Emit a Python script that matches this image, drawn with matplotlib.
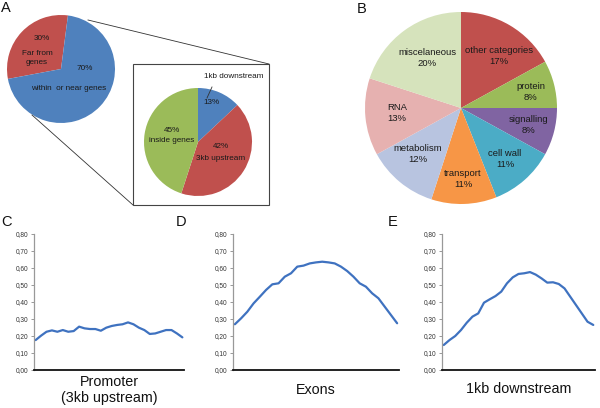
import matplotlib
matplotlib.use("Agg")
import matplotlib.pyplot as plt
from matplotlib.patches import Rectangle

plt.rcParams['font.family'] = ['Liberation Sans', 'DejaVu Sans']

# ---------------- data ----------------
a_labels = ["Far from\ngenes", "within  or near genes"]
a_values = [30, 70]
a_colors = ["#C0504D", "#4F81BD"]

inset_labels = ["1kb downstream", "3kb upstream", "inside genes"]
inset_values = [13, 42, 45]
inset_colors = ["#4F81BD", "#C0504D", "#9BBB59"]

b_labels = ["other categories", "protein", "signalling", "cell wall",
            "transport", "metabolism", "RNA", "miscelaneous"]
b_values = [17, 8, 8, 11, 11, 12, 13, 20]
b_colors = ["#C0504D", "#9BBB59", "#8064A2", "#4BACC6",
            "#F79646", "#B8C4E0", "#E6B1B0", "#D6E3BC"]

promoter = [0.176, 0.202, 0.225, 0.233, 0.225, 0.235, 0.225, 0.229, 0.255, 0.245,
            0.241, 0.241, 0.231, 0.249, 0.259, 0.265, 0.269, 0.280, 0.269, 0.249,
            0.235, 0.212, 0.215, 0.225, 0.235, 0.235, 0.215, 0.192]
exons = [0.269, 0.304, 0.343, 0.392, 0.431, 0.471, 0.504, 0.510, 0.549, 0.569,
         0.608, 0.614, 0.627, 0.633, 0.637, 0.633, 0.627, 0.608, 0.582, 0.549,
         0.510, 0.490, 0.451, 0.422, 0.373, 0.324, 0.275]
downstream = [0.147, 0.176, 0.200, 0.235, 0.278, 0.314, 0.333, 0.396, 0.416, 0.435,
              0.461, 0.510, 0.545, 0.565, 0.569, 0.576, 0.561, 0.539, 0.514, 0.516,
              0.506, 0.480, 0.431, 0.382, 0.333, 0.284, 0.265]
yticks = [0.0, 0.1, 0.2, 0.3, 0.4, 0.5, 0.6, 0.7, 0.8]
ytick_labels = ["0,00", "0,10", "0,20", "0,30", "0,40", "0,50", "0,60", "0,70", "0,80"]

W, H = 600, 408
fig = plt.figure(figsize=(6, 4.08), dpi=100)
ax0 = fig.add_axes([0, 0, 1, 1])


def Y(y):
    return H - y


TXT = "#1a1a1a"
small = 5.9
mid = 6.8

# Pie A
ax0.pie(a_values, colors=a_colors, startangle=82.6, counterclock=True,
        center=(61, Y(69)), radius=54, wedgeprops=dict(linewidth=0))
ax0.text(42, Y(38), "30%", ha="center", va="center", fontsize=small, color=TXT)
ax0.text(37, Y(58), a_labels[0], ha="center", va="center", fontsize=small, color=TXT,
         linespacing=1.3)
ax0.text(85, Y(68), "70%", ha="center", va="center", fontsize=small, color=TXT)
ax0.text(69, Y(89), a_labels[1], ha="center", va="center", fontsize=small, color=TXT)

# zoom lines and box
ax0.plot([88, 269], [Y(20), Y(64)], color="#333333", lw=0.6)
ax0.plot([32, 133], [Y(115), Y(205)], color="#333333", lw=0.6)
ax0.add_patch(Rectangle((133, Y(205)), 136, 141, fill=False, ec="#444444", lw=0.8))

# Inset pie
ax0.pie(inset_values, colors=inset_colors, startangle=90, counterclock=False,
        center=(198, Y(142)), radius=54, wedgeprops=dict(linewidth=0))
ax0.text(234, Y(76), inset_labels[0], ha="center", va="center", fontsize=small, color=TXT)
ax0.plot([212, 207], [Y(87), Y(98)], color="#333333", lw=0.6)
ax0.text(211, Y(102), "13%", ha="center", va="center", fontsize=small, color=TXT)
ax0.text(221, Y(147), "42%", ha="center", va="center", fontsize=small, color=TXT)
ax0.text(221, Y(159), inset_labels[1], ha="center", va="center", fontsize=small, color=TXT)
ax0.text(172, Y(130), "45%", ha="center", va="center", fontsize=small, color=TXT)
ax0.text(172, Y(140), inset_labels[2], ha="center", va="center", fontsize=small, color=TXT)

# Pie B
ax0.pie(b_values, colors=b_colors, startangle=90, counterclock=False,
        center=(461, Y(108)), radius=96, wedgeprops=dict(linewidth=0))
b_pos = [(499, 56), (531, 92), (529, 125), (505, 159), (463, 179), (418, 154),
         (397, 113), (427, 58)]
for lab, v, (x, y) in zip(b_labels, b_values, b_pos):
    ax0.text(x, Y(y), f"{lab}\n{v}%", ha="center", va="center", fontsize=mid,
             color=TXT, linespacing=1.2)

# panel letters
for letter, (x, y) in zip("ABCDE", [(1, 8), (357, 9), (1, 222), (176, 222), (388, 222)]):
    ax0.text(x, Y(y), letter, ha="left", va="center", fontsize=10.5, color="#111111")

ax0.set_xlim(0, W)
ax0.set_ylim(0, H)
ax0.set_aspect("auto")
ax0.axis("off")


def rect(l, t, r, b):
    return [l / W, 1 - b / H, (r - l) / W, (b - t) / H]


def line_panel(box, data, title, ty):
    ax = fig.add_axes(rect(*box))
    ax.set_facecolor("none")
    ax.plot(range(len(data)), data, color="#3F72C0", lw=1.6, solid_capstyle="round")
    ax.set_ylim(0, 0.8)
    ax.set_xlim(-0.3, len(data) - 0.7)
    ax.set_yticks(yticks)
    ax.set_yticklabels(ytick_labels)
    ax.set_xticks([])
    ax.tick_params(axis="y", length=2.5, width=0.6, color="#888888",
                   labelsize=4.7, labelcolor="#333333", pad=1.5)
    for s in ("top", "right"):
        ax.spines[s].set_visible(False)
    ax.spines["left"].set_color("#999999")
    ax.spines["left"].set_linewidth(0.9)
    ax.spines["bottom"].set_color("#111111")
    ax.spines["bottom"].set_linewidth(1.3)
    cx = (box[0] + box[2]) / 2
    ax0.text(cx, Y(ty), title, ha="center", va="center", fontsize=10.3,
             color="#111111", linespacing=1.15)
    return ax


line_panel((34, 234, 184, 370), promoter, "Promoter\n(3kb upstream)", 390)
line_panel((233, 234, 399, 370), exons, "Exons", 390)
line_panel((442, 234, 595, 370), downstream, "1kb downstream", 389)

fig.savefig("out.png", dpi=100)
